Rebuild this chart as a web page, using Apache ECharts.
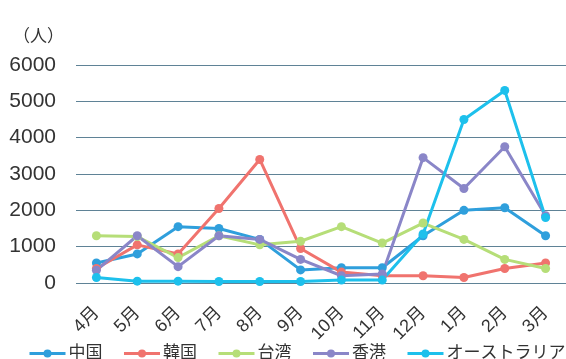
<!DOCTYPE html>
<html>
<head>
<meta charset="utf-8">
<script src="https://cdn.jsdelivr.net/npm/echarts@6/dist/echarts.min.js"></script>
<style>
  html, body { margin: 0; padding: 0; background: #ffffff; }
  #chart { width: 566px; height: 359px; }
</style>
</head>
<body>
<div id="chart"></div>
<script>
// Monthly visitors by country/region (persons)
const months = ['4月', '5月', '6月', '7月', '8月', '9月', '10月', '11月', '12月', '1月', '2月', '3月'];
const china     = [550, 800, 1550, 1500, 1200, 360, 420, 420, 1300, 2000, 2070, 1300];
const korea     = [400, 1050, 800, 2050, 3400, 950, 300, 200, 200, 150, 400, 550];
const taiwan    = [1300, 1280, 700, 1300, 1050, 1150, 1550, 1100, 1650, 1200, 650, 400];
const hongkong  = [350, 1300, 450, 1300, 1200, 650, 200, 250, 3450, 2600, 3750, 1850];
const australia = [150, 50, 50, 40, 40, 40, 80, 80, 1350, 4500, 5300, 1800];
const yTicks = { min: 0, max: 6000, interval: 1000 };

const font = '"Liberation Sans", "Noto Sans CJK JP", sans-serif';

function line(name, data, color) {
  return {
    name: name,
    type: 'line',
    data: data,
    symbol: 'circle',
    symbolSize: 9,
    itemStyle: { color: color },
    lineStyle: { color: color, width: 3 },
    emphasis: { disabled: true },
    animation: false
  };
}

const chart = echarts.init(document.getElementById('chart'));
chart.setOption({
  backgroundColor: '#ffffff',
  textStyle: { fontFamily: font },
  graphic: [{
    type: 'text',
    left: 13,
    top: 29,
    style: { text: '（人）', fontSize: 17, fill: '#333', fontFamily: font }
  }],
  grid: { left: 76, right: -13, top: 65, bottom: 76, containLabel: false },
  legend: {
    left: 23,
    top: 340,
    width: 700,
    itemWidth: 36,
    itemHeight: 10,
    itemGap: 20,
    lineStyle: { width: 3 },
    textStyle: { fontSize: 17, color: '#333', padding: [0, 0, 0, -2] },
    data: ['中国', '韓国', '台湾', '香港', 'オーストラリア']
  },
  xAxis: {
    type: 'category',
    data: months,
    boundaryGap: true,
    axisLine: { show: false },
    axisTick: { show: false },
    axisLabel: { rotate: 45, fontSize: 18, color: '#333', margin: 27, interval: 0 }
  },
  yAxis: {
    type: 'value',
    min: yTicks.min,
    max: yTicks.max,
    interval: yTicks.interval,
    axisLine: { show: false },
    axisTick: { show: false },
    axisLabel: { fontSize: 21, color: '#333', margin: 20, formatter: function (v) { return String(v); } },
    splitLine: { lineStyle: { color: '#5f8296', width: 1 } }
  },
  series: [
    line('中国', china, '#2f9fdc'),
    line('韓国', korea, '#f0736e'),
    line('台湾', taiwan, '#b6de78'),
    line('香港', hongkong, '#8a86c8'),
    line('オーストラリア', australia, '#1dc0ec')
  ]
});
</script>
</body>
</html>
